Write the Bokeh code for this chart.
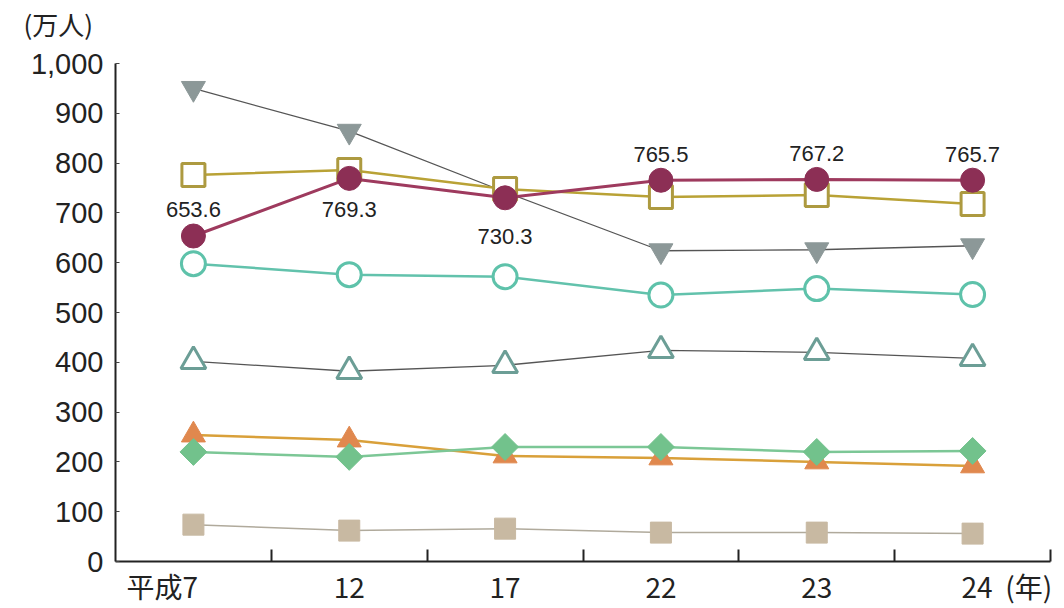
import math
from bokeh.plotting import figure
from bokeh.models import Range1d, FixedTicker, ColumnDataSource, LinearAxis, Title
from bokeh.core.properties import value
from bokeh.embed import file_html
from bokeh.resources import INLINE

categories = ["平成7", "12", "17", "22", "23", "24"]
maroon_vals = [653.6, 769.3, 730.3, 765.5, 767.2, 765.7]
maroon_labels = ["653.6", "769.3", "730.3", "765.5", "767.2", "765.7"]
gray_down_vals = [950, 864, 742, 624, 626, 634]
olive_sq_vals = [776, 786, 748, 732, 736, 718]
teal_circ_vals = [598, 576, 572, 535, 548, 536]
open_tri_vals = [402, 382, 394, 424, 420, 408]
orange_tri_vals = [254, 244, 212, 208, 200, 192]
green_dia_vals = [220, 210, 230, 230, 220, 222]
beige_sq_vals = [74, 62, 66, 58, 58, 56]
y_ticks = [0, 100, 200, 300, 400, 500, 600, 700, 800, 900, 1000]
unit_y = "(万人)"
unit_x = "(年)"

label_offsets = [-27, 31, 39, -26, -26, -26]

xs = [i + 0.5 for i in range(len(categories))]

p = figure(width=1064, height=608, output_backend="svg", toolbar_location=None,
           x_range=Range1d(0, len(categories)), y_range=Range1d(0, 1000),
           min_border_left=115, min_border_right=14, min_border_top=63, min_border_bottom=45,
           x_axis_type=None, y_axis_type=None)
p.outline_line_color = None
p.background_fill_color = "white"
p.border_fill_color = "white"

# a blank second line lifts the unit text clear of the "1,000" label
p.add_layout(Title(text=unit_y + "\n\u00a0", align="left", offset=-92, standoff=2,
                   vertical_align="bottom", text_line_height=0.55,
                   text_font="Noto Sans CJK JP", text_font_size="26px",
                   text_font_style="normal", text_color="#222"), "above")

# axes
yax = LinearAxis(ticker=FixedTicker(ticks=y_ticks),
                 major_label_overrides={t: f"{t:,}" for t in y_ticks})
yax.axis_line_width = 2
yax.axis_line_color = "#222"
yax.major_tick_in = 4
yax.major_tick_out = 0
yax.major_tick_line_color = "#444"
yax.minor_tick_line_color = None
yax.major_label_text_font = "Liberation Sans"
yax.major_label_text_font_size = "29px"
yax.major_label_text_color = "#222"
yax.major_label_standoff = 12
p.add_layout(yax, "left")

# first label is set left so its "7" sits under the point; last label carries the unit
label_pos = [xs[0] - 0.2] + xs[1:-1] + [xs[-1] + 0.22]
label_txt = categories[:-1] + [categories[-1] + "\u00a0\u00a0" + unit_x]
xax = LinearAxis(ticker=FixedTicker(ticks=label_pos, minor_ticks=list(range(1, len(categories) + 1))),
                 major_label_overrides={x: c for x, c in zip(label_pos, label_txt)})
xax.axis_line_width = 2
xax.axis_line_color = "#222"
xax.major_tick_in = 0
xax.major_tick_out = 0
xax.minor_tick_in = 12
xax.minor_tick_out = 0
xax.minor_tick_line_width = 2
xax.minor_tick_line_color = "#222"
xax.major_label_text_font = "Noto Sans CJK JP"
xax.major_label_text_font_size = "28px"
xax.major_label_text_color = "#222"
xax.major_label_standoff = 4
p.add_layout(xax, "below")

p.ygrid.ticker = FixedTicker(ticks=y_ticks[1:])
p.ygrid.grid_line_color = "#b8b8b8"
p.ygrid.grid_line_dash = "2 2"
p.ygrid.grid_line_width = 1
p.xgrid.grid_line_color = None

# series (bottom to top)
p.line(xs, beige_sq_vals, line_color="#b0aa9c", line_width=1.5)
p.scatter(xs, beige_sq_vals, marker="square", size=21, fill_color="#c8b9a2", line_color="#c8b9a2")

p.line(xs, orange_tri_vals, line_color="#d9a03a", line_width=2.5)
p.scatter(xs, orange_tri_vals, marker="triangle", size=24, fill_color="#e0884e", line_color="#e0884e")

p.line(xs, green_dia_vals, line_color="#7cc796", line_width=2.5)
p.scatter(xs, green_dia_vals, marker="square", angle=math.pi / 4, size=19,
          fill_color="#72c28c", line_color="#72c28c")

p.line(xs, open_tri_vals, line_color="#555555", line_width=1.3)
p.scatter(xs, open_tri_vals, marker="triangle", size=25, fill_color="white",
          line_color="#6c9e96", line_width=3)

p.line(xs, teal_circ_vals, line_color="#62c2ac", line_width=2.5)
p.scatter(xs, teal_circ_vals, marker="circle", size=24, fill_color="white",
          line_color="#5ec2aa", line_width=3)

p.line(xs, gray_down_vals, line_color="#555555", line_width=1.3)
p.scatter(xs, gray_down_vals, marker="inverted_triangle", size=24, fill_color="#8c9898",
          line_color="#8c9898")

p.line(xs, olive_sq_vals, line_color="#b9a236", line_width=2.5)
p.scatter(xs, olive_sq_vals, marker="square", size=23, fill_color="white",
          line_color="#ad9a40", line_width=3)

p.line(xs, maroon_vals, line_color="#9e3a5e", line_width=3)
p.scatter(xs, maroon_vals, marker="circle", size=24, fill_color="#8c2f55", line_color="#8c2f55")

src = ColumnDataSource(dict(x=xs, y=maroon_vals, t=maroon_labels, off=label_offsets))
p.text(x="x", y="y", text="t", y_offset="off", source=src, text_align="center",
       text_baseline="middle", text_font=value("Liberation Sans"), text_font_size="22px",
       text_color="#222")

open("out.html", "w").write(file_html(p, INLINE))
